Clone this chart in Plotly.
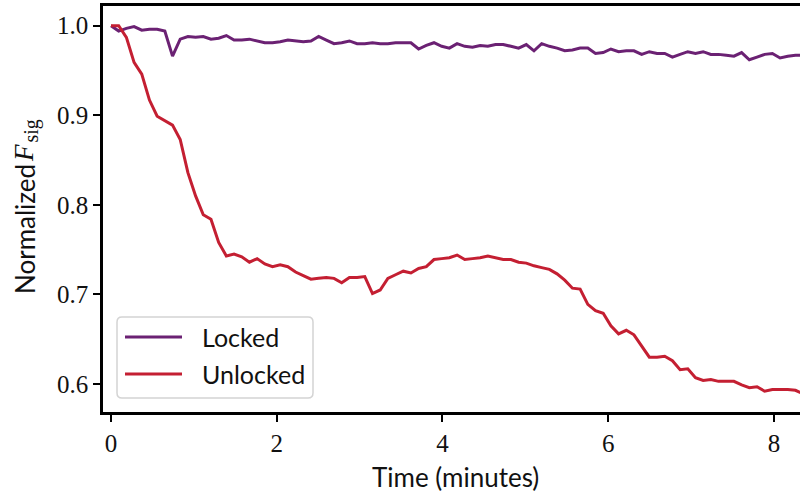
import plotly.graph_objects as go

# Sampling interval of the signal traces (minutes)
dt = 0.0928

locked = [
    1.000, 0.994, 0.997, 0.999, 0.995, 0.996, 0.996, 0.994, 0.966, 0.985,
    0.988, 0.987, 0.988, 0.985, 0.986, 0.989, 0.984, 0.984, 0.985, 0.983,
    0.981, 0.981, 0.982, 0.984, 0.983, 0.982, 0.983, 0.988, 0.984, 0.980,
    0.981, 0.983, 0.980, 0.980, 0.981, 0.980, 0.980, 0.981, 0.981, 0.981,
    0.974, 0.978, 0.981, 0.977, 0.975, 0.980, 0.977, 0.976, 0.978, 0.977,
    0.979, 0.979, 0.977, 0.975, 0.979, 0.972, 0.980, 0.977, 0.975, 0.972,
    0.973, 0.975, 0.975, 0.969, 0.970, 0.974, 0.971, 0.972, 0.972, 0.968,
    0.971, 0.969, 0.969, 0.965, 0.968, 0.971, 0.969, 0.971, 0.968, 0.968,
    0.967, 0.966, 0.970, 0.962, 0.965, 0.968, 0.969, 0.964, 0.966, 0.967,
    0.967,
]

unlocked = [
    1.000, 1.000, 0.987, 0.959, 0.946, 0.917, 0.899, 0.894, 0.889, 0.873,
    0.836, 0.810, 0.789, 0.784, 0.758, 0.743, 0.745, 0.742, 0.736, 0.740,
    0.734, 0.731, 0.733, 0.731, 0.725, 0.721, 0.717, 0.718, 0.719, 0.718,
    0.713, 0.719, 0.719, 0.720, 0.701, 0.705, 0.718, 0.722, 0.726, 0.724,
    0.729, 0.731, 0.739, 0.740, 0.741, 0.744, 0.739, 0.740, 0.741, 0.743,
    0.741, 0.739, 0.739, 0.736, 0.735, 0.732, 0.730, 0.728, 0.723, 0.716,
    0.707, 0.706, 0.689, 0.682, 0.679, 0.665, 0.656, 0.660, 0.655, 0.643,
    0.630, 0.630, 0.631, 0.626, 0.616, 0.617, 0.607, 0.604, 0.605, 0.603,
    0.603, 0.603, 0.599, 0.596, 0.597, 0.592, 0.594, 0.594, 0.594, 0.593,
    0.589,
]

time_locked = [i * dt for i in range(len(locked))]
time_unlocked = [i * dt for i in range(len(unlocked))]

series_names = ["Locked", "Unlocked"]
series_colors = ["#6b2173", "#c41f32"]

x_ticks = [0, 2, 4, 6, 8]
y_ticks = [0.6, 0.7, 0.8, 0.9, 1.0]
y_tick_text = ["0.6", "0.7", "0.8", "0.9", "1.0"]

SERIF = "Liberation Serif"
SANS = "Lato"
FS = 25
INK = "#111"

W, H = 800, 496
ML, MR, MT, MB = 103, 0, 6, 84
PW, PH = W - ML - MR, H - MT - MB


def px_x(p):
    return (p - ML) / PW


def px_y(p):
    return (H - MB - p) / PH


fig = go.Figure()
for t, v, name, col in zip([time_locked, time_unlocked], [locked, unlocked],
                           series_names, series_colors):
    fig.add_trace(go.Scatter(x=t, y=v, mode="lines", name=name,
                             line=dict(color=col, width=3),
                             showlegend=False))

# Legend frame with rounded corners
x0, x1 = px_x(117), px_x(313)
y0, y1 = px_y(398), px_y(317)
rx, ry = 5 / PW, 5 / PH
path = (f"M{x0+rx},{y0} L{x1-rx},{y0} Q{x1},{y0} {x1},{y0+ry} "
        f"L{x1},{y1-ry} Q{x1},{y1} {x1-rx},{y1} L{x0+rx},{y1} "
        f"Q{x0},{y1} {x0},{y1-ry} L{x0},{y0+ry} Q{x0},{y0} {x0+rx},{y0} Z")
shapes = [dict(type="path", path=path, xref="paper", yref="paper",
               line=dict(color="#d4d4d4", width=1.5),
               fillcolor="rgba(255,255,255,0.85)", layer="above")]

annotations = []
for k, (name, col) in enumerate(zip(series_names, series_colors)):
    yy = px_y(337 + 37 * k)
    shapes.append(dict(type="line", xref="paper", yref="paper",
                       x0=px_x(125), x1=px_x(182), y0=yy, y1=yy,
                       line=dict(color=col, width=3), layer="above"))
    annotations.append(dict(text=name, xref="paper", yref="paper",
                            x=px_x(200), y=yy, xanchor="left", yanchor="middle",
                            showarrow=False,
                            font=dict(family=SANS, size=FS, color=INK)))

# Axis titles
annotations.append(dict(text="Time (minutes)", xref="paper", yref="paper",
                        x=px_x(455), y=px_y(477), xanchor="center",
                        yanchor="middle", showarrow=False,
                        font=dict(family=SANS, size=FS + 1, color=INK)))
annotations.append(dict(text="Normalized", xref="paper", yref="paper",
                        x=px_x(25), y=px_y(296), xanchor="center",
                        yanchor="bottom", textangle=-90, showarrow=False,
                        font=dict(family=SANS, size=26, color=INK)))
annotations.append(dict(text="<i>F</i>", xref="paper", yref="paper",
                        x=px_x(24), y=px_y(164), xanchor="center",
                        yanchor="bottom", textangle=-90, showarrow=False,
                        font=dict(family=SERIF, size=27, color=INK)))
annotations.append(dict(text="sig", xref="paper", yref="paper",
                        x=px_x(31), y=px_y(145), xanchor="center",
                        yanchor="bottom", textangle=-90, showarrow=False,
                        font=dict(family=SERIF, size=20, color=INK)))

fig.update_layout(
    width=W, height=H,
    margin=dict(l=ML, r=MR, t=MT, b=MB),
    paper_bgcolor="white", plot_bgcolor="white",
    shapes=shapes, annotations=annotations,
    xaxis=dict(range=[-0.0965, 8.314], tickvals=x_ticks,
               ticks="outside", ticklen=7, tickwidth=2, tickcolor="black",
               showline=True, linecolor="black", linewidth=2.5, mirror=True,
               showgrid=False, zeroline=False,
               tickfont=dict(family=SERIF, size=25, color=INK)),
    yaxis=dict(range=[0.5688, 1.022], tickvals=y_ticks, ticktext=y_tick_text,
               ticks="outside", ticklen=7, tickwidth=2, tickcolor="black",
               showline=True, linecolor="black", linewidth=2.5,
               showgrid=False, zeroline=False,
               tickfont=dict(family=SERIF, size=25, color=INK)),
)

fig.write_html("out.html")
